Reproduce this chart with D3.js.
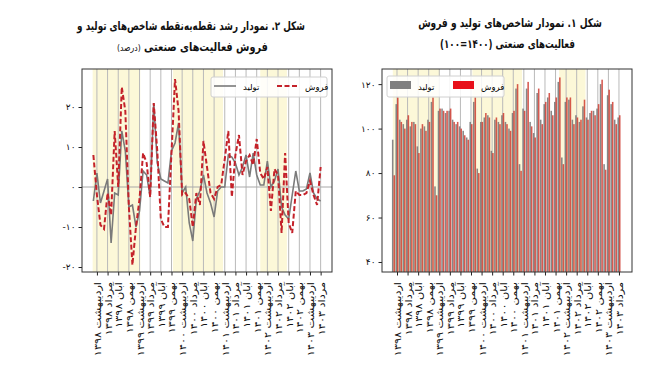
<!DOCTYPE html>
<html><head><meta charset="utf-8">
<script src="https://cdn.jsdelivr.net/npm/d3@7"></script>
<style>body{margin:0;background:#fff}svg{display:block}</style>
</head><body>
<svg id="c" width="661" height="376"></svg>
<script>
// ---- data ----
const tickMonths = [1,4,7,10,13,16,19,22,25,28,31,34,37,40,43,46,49,52,55,58,61,64];
const tickLabels = ["اردیبهشت ۱۳۹۸","مرداد ۱۳۹۸","آبان ۱۳۹۸","بهمن ۱۳۹۸",
  "اردیبهشت ۱۳۹۹","مرداد ۱۳۹۹","آبان ۱۳۹۹","بهمن ۱۳۹۹",
  "اردیبهشت ۱۴۰۰","مرداد ۱۴۰۰","آبان ۱۴۰۰","بهمن ۱۴۰۰",
  "اردیبهشت ۱۴۰۱","مرداد ۱۴۰۱","آبان ۱۴۰۱","بهمن ۱۴۰۱",
  "اردیبهشت ۱۴۰۲","مرداد ۱۴۰۲","آبان ۱۴۰۲","بهمن ۱۴۰۲",
  "اردیبهشت ۱۴۰۳","مرداد ۱۴۰۳"];
const shadedBands = [[-0.2,13.2],[22.4,36.5],[47,54.5]];

// Fig 2: point-to-point growth (%)
const growthProduction = [-3.5,3.5,-4,-1,2,-14,-1.5,-2,14,9,-5,-4.5,
  -10,-6,4,3,-2.5,21,6,2,1.5,1,9,11,
  16,-1.5,0,-9,-13.5,-3,-1,3,-1.5,-4,-7.5,-1,
  0,0,8,7.5,6,3,5,8,2.5,8.5,3,0.5,
  0.5,6.5,0,1.5,4.5,-5,-7,-8,-2,4,-1,-1,
  -0.5,3.5,-1.5,-3,-3.5];
const growthSales = [8,-2,-9.5,-10.5,-1.5,-7,14,0,25,19,-5,-19.5,
  -10,-3,8.5,6,-2.5,21,9,-8,-10,-10,8.5,27,
  19,-2,-1.5,-3,-10,-1.5,-4.5,11.5,5,-1.5,-3,0,
  0.5,7,14,-2.5,8,13,3,6.5,8,5.5,12,3.5,
  2,5,-6,4.5,3,-11.5,8.5,-9,-11.5,-1,-2,-2,
  -1.5,1.5,-2,-4.5,5];
const growthTicks = [-20,-10,0,10,20];

// Fig 1: indices (1400=100)
const indexProduction = [95,111,104,102,104,101,103,92,100,101,104,112,
  74,108,109,107,108,104,102,101,99,96,103,112,
  82,103,105,106,90,104,103,106,103,100,107,118,
  84,109,118,103,98,116,104,111,114,108,112,121,
  87,112,113,104,106,103,110,105,107,108,109,120,
  84,115,111,104,105];
const indexSales = [79,114,103,100,106,103,102,89,102,99,103,114,
  70,109,108,108,109,103,103,100,97,95,102,114,
  80,103,107,105,89,105,102,107,102,99,108,120,
  81,108,121,101,96,118,102,112,116,106,114,123,
  84,114,114,102,105,104,113,104,108,106,111,122,
  81.5,117.5,112,102,106];
const indexTicks = [40,60,80,100,120];

const seriesNames = ["تولید","فروش"];

// ---- helpers ----
const faDigits = s => String(s).replace(/\d/g, d => "۰۱۲۳۴۵۶۷۸۹"[d]);
const FONT = "DejaVu Sans";
const svg = d3.select("#c");
const YELLOW = "#fcf8d8", GRID = "#b9b9b9";

function panel(cfg){
  const {x0,x1,y0,y1,xDomain,yDomain,yTicks} = cfg;
  const x = d3.scaleLinear().domain(xDomain).range([x0,x1]);
  const y = d3.scaleLinear().domain(yDomain).range([y1,y0]);
  const g = svg.append("g");
  const clipId = cfg.id + "clip";
  svg.append("clipPath").attr("id",clipId).append("rect")
    .attr("x",x0).attr("y",y0).attr("width",x1-x0).attr("height",y1-y0);
  const inner = g.append("g").attr("clip-path",`url(#${clipId})`);
  inner.selectAll("rect.band").data(shadedBands).join("rect")
    .attr("x",d=>x(d[0])).attr("width",d=>x(d[1])-x(d[0]))
    .attr("y",y0).attr("height",y1-y0).attr("fill",YELLOW);
  inner.selectAll("line.grid").data(tickMonths).join("line")
    .attr("x1",d=>x(d)).attr("x2",d=>x(d)).attr("y1",y0).attr("y2",y1)
    .attr("stroke",GRID).attr("stroke-width",1);
  const xAxis = d3.axisBottom(x).tickValues(tickMonths).tickSize(3.5).tickFormat((d,i)=>tickLabels[i]);
  const ax = g.append("g").attr("transform",`translate(0,${y1})`).call(xAxis);
  ax.select(".domain").remove();
  ax.selectAll(".tick line").attr("stroke","#222");
  ax.selectAll(".tick text").attr("font-family",FONT).attr("font-size",9.8).attr("fill","#111")
    .attr("text-anchor","end").attr("dy",null).attr("y",0)
    .attr("transform","translate(3.5,10) rotate(-90) scale(1.15,1)");
  const yAxis = d3.axisLeft(y).tickValues(yTicks).tickSize(3.5).tickFormat(d=>faDigits(d));
  const ay = g.append("g").attr("transform",`translate(${x0},0)`).call(yAxis);
  ay.select(".domain").remove();
  ay.selectAll(".tick line").attr("stroke","#222");
  ay.selectAll(".tick text").attr("font-family",FONT).attr("font-size",9).attr("fill","#111");
  return {x,y,g,inner};
}

// ---- Left: Fig 2 ----
const L = panel({id:"L",x0:82,x1:332,y0:69,y1:272,xDomain:[-3.2,67.2],yDomain:[-21.25,29.5],yTicks:growthTicks});
L.inner.append("line").attr("x1",82).attr("x2",332).attr("y1",L.y(0)).attr("y2",L.y(0))
  .attr("stroke","#a8a8a8").attr("stroke-width",1);
const line = d3.line().x((d,i)=>L.x(i)).y(d=>L.y(d));
L.inner.append("path").datum(growthProduction).attr("d",line)
  .attr("fill","none").attr("stroke","#7a7a7a").attr("stroke-width",1.6);
L.inner.append("path").datum(growthSales).attr("d",line)
  .attr("fill","none").attr("stroke","#c4222a").attr("stroke-width",2).attr("stroke-dasharray","5,2.5");
L.g.append("rect").attr("x",82).attr("y",69).attr("width",250).attr("height",203)
  .attr("fill","none").attr("stroke","#333").attr("stroke-width",1);
const lg = L.g.append("g");
lg.append("rect").attr("x",211).attr("y",77).attr("width",116).attr("height",20).attr("rx",2)
  .attr("fill","#fff").attr("fill-opacity",0.85).attr("stroke","#d0d0d0");
lg.append("line").attr("x1",214).attr("x2",236).attr("y1",86).attr("y2",86).attr("stroke","#7a7a7a").attr("stroke-width",1.6);
lg.append("text").attr("x",243).attr("y",89.5).text(seriesNames[0]).attr("font-family",FONT).attr("font-size",8.5);
lg.append("line").attr("x1",277).attr("x2",299).attr("y1",86).attr("y2",86).attr("stroke","#c4222a").attr("stroke-width",2).attr("stroke-dasharray","5,2.5");
lg.append("text").attr("x",305).attr("y",89.5).text(seriesNames[1]).attr("font-family",FONT).attr("font-size",8.5);

// ---- Right: Fig 1 ----
const R = panel({id:"R",x0:382,x1:632,y0:69,y1:272,xDomain:[-3.26,67.7],yDomain:[35.5,126.8],yTicks:indexTicks});
const bw = 0.44;
R.inner.selectAll("rect.p").data(indexProduction).join("rect")
  .attr("x",(d,i)=>R.x(i-bw)).attr("width",R.x(bw)-R.x(0))
  .attr("y",d=>R.y(d)).attr("height",d=>272-R.y(d))
  .attr("fill","#7a7a7a").attr("fill-opacity",0.9);
R.inner.selectAll("rect.s").data(indexSales).join("rect")
  .attr("x",(d,i)=>R.x(i)).attr("width",R.x(bw)-R.x(0))
  .attr("y",d=>R.y(d)).attr("height",d=>272-R.y(d))
  .attr("fill","#cc3024").attr("fill-opacity",0.8);
R.g.append("rect").attr("x",382).attr("y",69).attr("width",250).attr("height",203)
  .attr("fill","none").attr("stroke","#333").attr("stroke-width",1);
const rg = R.g.append("g");
rg.append("rect").attr("x",387).attr("y",76).attr("width",117).attr("height",21).attr("rx",2)
  .attr("fill","#fff").attr("fill-opacity",0.85).attr("stroke","#d0d0d0");
rg.append("rect").attr("x",390).attr("y",81).attr("width",21).attr("height",8).attr("fill","#808080");
rg.append("text").attr("x",418).attr("y",89.5).text(seriesNames[0]).attr("font-family",FONT).attr("font-size",8.5);
rg.append("rect").attr("x",453).attr("y",81).attr("width",21).attr("height",8).attr("fill","#e8101a");
rg.append("text").attr("x",481).attr("y",89.5).text(seriesNames[1]).attr("font-family",FONT).attr("font-size",8.5);

// ---- Titles ----
function title(x,y,w,parts){
  const t = svg.append("text").attr("x",x).attr("y",y).attr("text-anchor","middle")
    .attr("direction","rtl").style("direction","rtl").attr("font-family",FONT).attr("fill","#111");
  parts.forEach(p=>t.append("tspan").text(p.t).attr("font-weight",p.b?"bold":"normal").attr("font-size",p.s));
  const nat = t.node().getComputedTextLength();
  const k = w / nat;
  t.attr("transform",`translate(${x},0) scale(${k},1) translate(${-x},0)`);
}
title(191,30,228,[{t:"شکل ۲. نمودار رشد نقطه‌به‌نقطه شاخص‌های تولید و",b:1,s:12}]);
title(192.5,51,151,[{t:"فروش فعالیت‌های صنعتی ",b:1,s:12},{t:"(درصد)",b:0,s:9.5}]);
title(510,27,184,[{t:"شکل ۱. نمودار شاخص‌های تولید و فروش",b:1,s:12}]);
title(507.5,48,135,[{t:"فعالیت‌های صنعتی (۱۴۰۰=۱۰۰)",b:1,s:12}]);
</script>
</body></html>
